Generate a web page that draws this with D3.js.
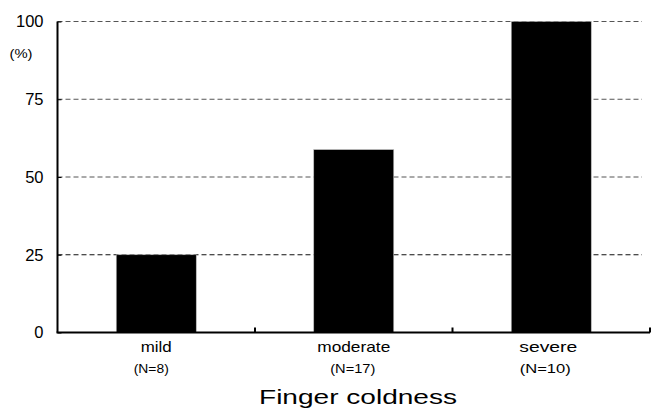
<!DOCTYPE html>
<html><head><meta charset="utf-8">
<script src="https://cdn.jsdelivr.net/npm/d3@7"></script>
<style>body{margin:0;background:#fff}svg{display:block}text{font-family:"Liberation Sans",Arial,sans-serif;fill:#000}</style>
</head><body>
<svg id="c" width="651" height="410"></svg>
<script>
const categories = ["mild", "moderate", "severe"];
const sampleSizes = ["(N=8)", "(N=17)", "(N=10)"];
const values = [25, 58.8, 100];
const yTicks = [0, 25, 50, 75, 100];

(function () {
const svg = d3.select("#c");
const mLeft = 57.5, mRight = 650, mTop = 21.5, mBottom = 332.5;
const x = d3.scaleBand().domain(categories).range([mLeft, mRight]).paddingInner(0).paddingOuter(0);
const y = d3.scaleLinear().domain([0, 100]).range([mBottom, mTop]);
const barW = 80;
const catW = [31, 73, 58];
const nW = [35, 45, 51];
const nDx = [-5, -1, -6];

// gridlines
svg.append("g").selectAll("line").data(yTicks.filter(d => d > 0)).join("line")
  .attr("x1", mLeft).attr("x2", 642).attr("y1", d => y(d)).attr("y2", d => y(d))
  .attr("stroke", d => d === 25 ? "#111" : "#555").attr("stroke-width", 1)
  .attr("stroke-dasharray", "5,3");

// bars
svg.append("g").selectAll("rect").data(values).join("rect")
  .attr("x", (d, i) => x(categories[i]) + x.bandwidth() / 2 - barW / 2)
  .attr("width", barW)
  .attr("y", d => y(d)).attr("height", d => mBottom - y(d))
  .attr("fill", "#000").attr("stroke", "#bbb").attr("stroke-width", 0.6);

// y axis
const ya = svg.append("g").attr("transform", `translate(${mLeft},0)`)
  .call(d3.axisLeft(y).tickValues(yTicks).tickSize(-4).tickPadding(14).tickFormat(d3.format("d")));
ya.select(".domain").attr("stroke", "#000").attr("stroke-width", 2).attr("d", `M0,${mTop}V${mBottom}`);
ya.selectAll(".tick line").attr("stroke", "#000").attr("stroke-width", 1);
ya.selectAll("text").attr("font-size", 16.5).attr("font-family", '"Liberation Sans",Arial,sans-serif');

// x axis
svg.append("line").attr("x1", mLeft - 1).attr("x2", mRight).attr("y1", mBottom).attr("y2", mBottom)
  .attr("stroke", "#000").attr("stroke-width", 2);
svg.append("g").selectAll("line").data(categories).join("line")
  .attr("x1", d => x(d) + x.bandwidth()).attr("x2", d => x(d) + x.bandwidth())
  .attr("y1", mBottom).attr("y2", mBottom - 5).attr("stroke", "#000").attr("stroke-width", 2);

svg.append("g").selectAll("text").data(categories).join("text")
  .attr("x", (d, i) => x(d) + x.bandwidth() / 2 - (i === 2 ? 3 : 0)).attr("y", 352).attr("text-anchor", "middle")
  .attr("font-size", 14.5)
  .attr("textLength", (d, i) => catW[i]).attr("lengthAdjust", "spacingAndGlyphs")
  .text(d => d);
svg.append("g").selectAll("text").data(sampleSizes).join("text")
  .attr("x", (d, i) => x(categories[i]) + x.bandwidth() / 2 + nDx[i]).attr("y", 372.5).attr("text-anchor", "middle")
  .attr("font-size", 12)
  .attr("textLength", (d, i) => nW[i]).attr("lengthAdjust", "spacingAndGlyphs")
  .text(d => d);

svg.append("text").attr("x", 259).attr("y", 404).attr("text-anchor", "start")
  .attr("font-size", 20).attr("textLength", 198).attr("lengthAdjust", "spacingAndGlyphs")
  .text("Finger coldness");
svg.append("text").attr("x", 21).attr("y", 58).attr("text-anchor", "middle")
  .attr("font-size", 13).attr("textLength", 23).attr("lengthAdjust", "spacingAndGlyphs").text("(%)");
})();
</script>
</body></html>
